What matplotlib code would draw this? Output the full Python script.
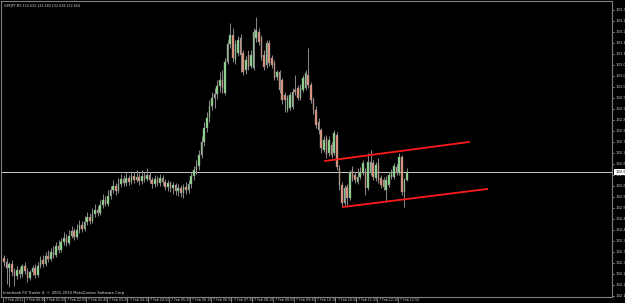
import matplotlib
matplotlib.use("Agg")
import matplotlib.pyplot as plt
import numpy as np

# ---- data (GBPJPY M5, 7 Feb 2011) ----
opens = [132.320,132.304,132.280,132.296,132.264,132.248,132.272,132.256,
132.288,132.268,132.240,132.264,132.280,132.252,132.288,132.312,
132.296,132.328,132.316,132.344,132.332,132.368,132.352,132.384,
132.400,132.380,132.408,132.428,132.404,132.432,132.452,132.436,
132.464,132.484,132.468,132.496,132.512,132.500,132.532,132.552,
132.536,132.568,132.592,132.608,132.588,132.616,132.636,132.620,
132.640,132.624,132.648,132.632,132.644,132.628,132.648,132.636,
132.652,132.632,132.616,132.636,132.620,132.640,132.624,132.604,
132.620,132.600,132.612,132.588,132.600,132.580,132.604,132.592,
132.616,132.648,132.672,132.688,132.732,132.784,132.840,132.880,
132.928,132.960,132.976,133.008,133.032,132.980,133.104,133.176,
133.212,133.112,133.140,133.200,133.140,133.072,133.132,133.088,
133.080,133.200,133.224,133.200,133.132,133.092,133.180,133.120,
133.100,133.044,133.064,133.032,132.972,132.912,132.920,132.924,
132.992,133.000,132.960,132.992,133.000,133.052,133.012,132.952,
132.912,132.864,132.832,132.752,132.800,132.740,132.772,132.740,
132.812,132.680,132.612,132.540,132.604,132.560,132.672,132.652,
132.624,132.644,132.660,132.664,132.600,132.660,132.700,132.640,
132.700,132.640,132.632,132.592,132.612,132.644,132.644,132.684,
132.660,132.724,132.584,132.632]
highs = [132.332,132.320,132.304,132.312,132.280,132.288,132.284,132.296,
132.304,132.280,132.272,132.292,132.296,132.304,132.328,132.332,
132.344,132.352,132.360,132.368,132.384,132.392,132.400,132.424,
132.416,132.432,132.448,132.440,132.456,132.472,132.468,132.488,
132.504,132.500,132.520,132.536,132.528,132.552,132.576,132.568,
132.592,132.608,132.632,132.620,132.640,132.656,132.652,132.664,
132.652,132.668,132.664,132.672,132.660,132.672,132.664,132.680,
132.664,132.644,132.652,132.648,132.656,132.652,132.636,132.632,
132.628,132.624,132.620,132.616,132.612,132.616,132.624,132.632,
132.664,132.688,132.712,132.752,132.808,132.864,132.904,132.952,
132.984,133.000,133.032,133.064,133.072,133.120,133.192,133.260,
133.240,133.192,133.208,133.216,133.152,133.128,133.152,133.152,
133.240,133.284,133.240,133.212,133.152,133.192,133.192,133.132,
133.112,133.072,133.072,133.040,132.984,132.972,132.984,133.000,
133.052,133.012,133.016,133.052,133.072,133.160,133.024,132.964,
132.928,132.880,132.840,132.808,132.812,132.808,132.784,132.832,
132.824,132.692,132.624,132.612,132.616,132.672,132.688,132.664,
132.680,132.684,132.712,132.680,132.740,132.752,132.712,132.704,
132.720,132.652,132.644,132.648,132.664,132.676,132.700,132.696,
132.740,132.732,132.640,132.680]
lows = [132.288,132.216,132.204,132.248,132.208,132.236,132.240,132.244,
132.256,132.224,132.232,132.252,132.240,132.244,132.280,132.284,
132.288,132.304,132.308,132.320,132.324,132.340,132.344,132.372,
132.368,132.372,132.400,132.392,132.396,132.420,132.424,132.428,
132.452,132.456,132.460,132.484,132.488,132.492,132.520,132.528,
132.528,132.556,132.580,132.572,132.580,132.604,132.608,132.608,
132.612,132.616,132.620,132.624,132.612,132.616,132.624,132.628,
132.620,132.600,132.604,132.608,132.608,132.612,132.592,132.588,
132.584,132.576,132.572,132.568,132.564,132.560,132.576,132.580,
132.600,132.632,132.656,132.672,132.720,132.768,132.824,132.864,
132.912,132.920,132.956,132.984,132.980,132.972,133.096,133.160,
133.104,133.096,133.128,133.064,133.052,133.056,133.072,133.080,
133.072,133.184,133.172,133.112,133.072,133.080,133.088,133.080,
133.032,133.032,132.980,132.936,132.904,132.904,132.912,132.916,
132.972,132.952,132.952,132.984,132.992,133.000,132.940,132.896,
132.840,132.816,132.740,132.744,132.720,132.728,132.720,132.732,
132.672,132.592,132.524,132.532,132.532,132.552,132.628,132.620,
132.616,132.636,132.652,132.572,132.592,132.652,132.632,132.628,
132.620,132.600,132.592,132.544,132.604,132.636,132.636,132.652,
132.652,132.572,132.524,132.628]
closes = [132.304,132.280,132.296,132.264,132.248,132.272,132.256,132.288,
132.268,132.240,132.264,132.280,132.252,132.288,132.312,132.296,
132.328,132.316,132.344,132.332,132.368,132.352,132.384,132.400,
132.380,132.408,132.428,132.404,132.432,132.452,132.436,132.464,
132.484,132.468,132.496,132.512,132.500,132.532,132.552,132.536,
132.568,132.592,132.608,132.588,132.616,132.636,132.620,132.640,
132.624,132.648,132.632,132.644,132.628,132.648,132.636,132.652,
132.632,132.616,132.636,132.620,132.640,132.624,132.604,132.620,
132.600,132.612,132.588,132.600,132.580,132.604,132.592,132.616,
132.648,132.672,132.688,132.732,132.784,132.840,132.880,132.928,
132.960,132.976,133.008,133.032,133.000,133.104,133.176,133.212,
133.120,133.176,133.192,133.132,133.064,133.112,133.084,133.132,
133.224,133.232,133.184,133.124,133.084,133.180,133.100,133.092,
133.040,133.064,132.992,132.952,132.952,132.960,132.972,132.984,
132.984,132.960,133.000,133.040,133.060,133.012,132.952,132.912,
132.852,132.832,132.760,132.792,132.732,132.792,132.732,132.820,
132.684,132.612,132.540,132.600,132.560,132.660,132.640,132.632,
132.644,132.664,132.700,132.600,132.704,132.704,132.644,132.692,
132.632,132.612,132.604,132.632,132.652,132.664,132.688,132.660,
132.724,132.584,132.632,132.664]

time_labels = ["7 Feb 2011","7 Feb 00:40","7 Feb 01:20","7 Feb 02:00","7 Feb 02:40",
               "7 Feb 03:20","7 Feb 04:10","7 Feb 04:50","7 Feb 05:30","7 Feb 06:10",
               "7 Feb 06:50","7 Feb 07:30","7 Feb 08:10","7 Feb 08:50","7 Feb 09:30",
               "7 Feb 10:10","7 Feb 10:50","7 Feb 11:30","7 Feb 12:10","7 Feb 12:50"]
time_label_bars = [0,8,16,24,32,40,48,56,64,72,80,88,96,104,112,120,128,136,144,152]

price_labels = [133.312,133.268,133.224,133.180,133.136,133.092,133.048,133.004,
                132.960,132.916,132.872,132.828,132.784,132.740,132.696,132.652,
                132.608,132.564,132.520,132.476,132.432,132.388,132.344,132.300,
                132.256,132.212,132.168]

# channel trend lines: (bar0, price0, bar1, price1)
upper_line = [123.5, 132.708, 178.8, 132.784]
lower_line = [130.4, 132.524, 185.8, 132.596]

header = "GBPJPY,M5 132.632 132.680 132.628 132.664"
footer = "Interbank FX Trader 4, \u00a9 2001-2010 MetaQuotes Software Corp."

# ---- drawing ----
W, H = 625, 303
fig = plt.figure(figsize=(W/100, H/100), dpi=100, facecolor="black")
ax = fig.add_axes([1/W, 1 - 297/H, 611/W, 296/H], facecolor="black")
ax.set_xlim(-1.154, 233.85)
ax.set_ylim(132.164, 133.348)
for s in ax.spines.values():
    s.set_color("#808080")
    s.set_linewidth(0.8)
ax.set_xticks([]); ax.set_yticks([])

bull_c = "#8fe08f"
bear_c = "#e8967a"
wick_c = "#8a8a8a"
n = len(closes)
x = np.arange(n)
o = np.array(opens); c = np.array(closes); h = np.array(highs); l = np.array(lows)
ax.vlines(x, l, h, color=wick_c, lw=0.7, zorder=2)
up = c >= o
bot = np.minimum(o, c)
hgt = np.maximum(np.abs(c - o), 0.002)
ax.bar(x[up], hgt[up], bottom=bot[up], width=0.62, color=bull_c,
       edgecolor=wick_c, linewidth=0.3, zorder=3)
ax.bar(x[~up], hgt[~up], bottom=bot[~up], width=0.62, color=bear_c,
       edgecolor=wick_c, linewidth=0.3, zorder=3)

# bid line
ax.axhline(closes[-1], color="#c8c8c8", lw=0.7, zorder=1)

# channel
ax.plot([upper_line[0], upper_line[2]], [upper_line[1], upper_line[3]], color="#ff1a1a", lw=1.3, zorder=4)
ax.plot([lower_line[0], lower_line[2]], [lower_line[1], lower_line[3]], color="#ff1a1a", lw=1.3, zorder=4)

# price axis labels and ticks
ytr = ax.get_yaxis_transform()
for p in price_labels:
    ax.annotate("%.3f" % p, xy=(1.0, p), xycoords=ytr,
                xytext=(2.2, 0), textcoords="offset points", fontsize=2.7,
                color="#d0d0d0", va="center", ha="left", annotation_clip=False)
    ax.plot([1.0, 1.004], [p, p], transform=ytr, color="#808080",
            lw=0.6, clip_on=False)
ax.annotate("%.3f" % closes[-1], xy=(1.0, closes[-1]), xycoords=ytr,
            xytext=(2.2, 0), textcoords="offset points", fontsize=2.7,
            color="black", va="center", ha="left", annotation_clip=False,
            bbox=dict(boxstyle="square,pad=0.2", fc="white", ec="none"), zorder=6)

# time labels
xtr = ax.get_xaxis_transform()
for b, t in zip(time_label_bars, time_labels):
    ax.plot([b - 0.5, b - 0.5], [0, -0.02], transform=xtr,
            color="#808080", lw=0.6, clip_on=False)
    ax.annotate(t, xy=(b, 0), xycoords=xtr, xytext=(0.6, -1.0),
                textcoords="offset points", fontsize=2.3, color="#d0d0d0",
                va="top", ha="left", annotation_clip=False)

fig.text(4/W, 1 - 6/H, header, fontsize=2.3, color="#d0d0d0", va="center", ha="left")
fig.text(3/W, 1 - 293/H, footer, fontsize=2.7, color="#e0e0e0", va="center", ha="left")

fig.savefig("out.png", dpi=100, facecolor="black")
